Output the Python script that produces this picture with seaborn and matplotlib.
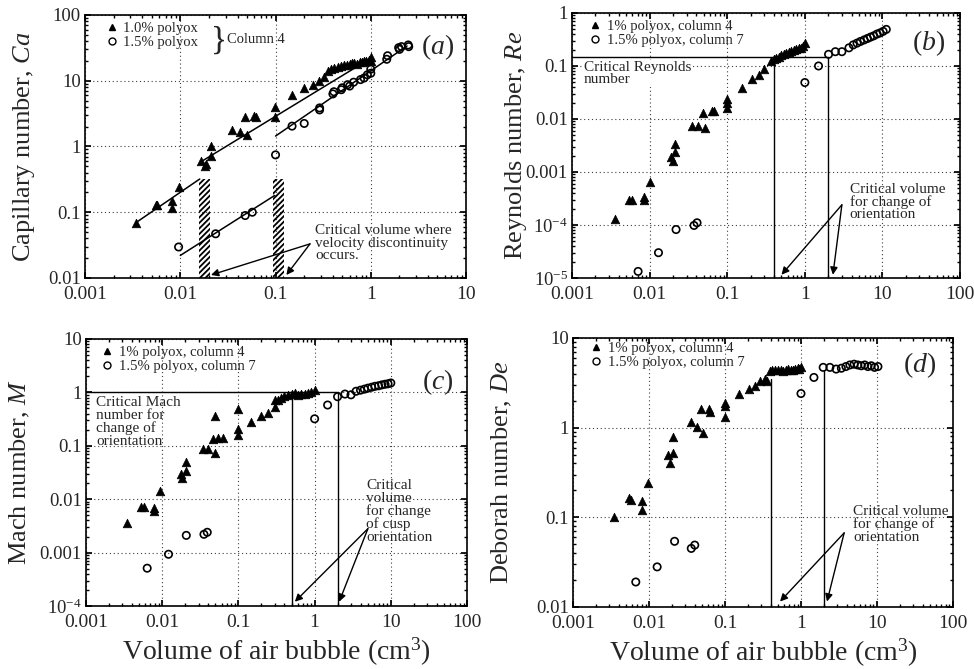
import numpy as np
import pandas as pd
import seaborn as sns
import matplotlib.pyplot as plt
from matplotlib.lines import Line2D

# ---- (a) capillary number, column 4
ca_x_10 = [0.0034, 0.0055, 0.0057, 0.0082, 0.0082, 0.0098,
           0.0165, 0.018, 0.0187, 0.021, 0.021, 0.0346, 0.042, 0.048, 0.050, 0.060, 0.062, 0.098, 0.098,
           0.149, 0.20, 0.246, 0.289, 0.326, 0.353, 0.38, 0.414, 0.45, 0.49, 0.527, 0.56, 0.60, 0.64,
           0.67, 0.72, 0.77, 0.81, 0.85, 0.90, 0.95, 1.0, 1.0]
ca_y_10 = [0.069, 0.13, 0.13, 0.115, 0.15, 0.24,
           0.6, 0.51, 0.55, 1.0, 0.72, 1.8, 1.67, 2.8, 1.5, 2.95, 2.8, 4.0, 2.8,
           6.0, 7.7, 8.7, 10, 11.4, 14.3, 15, 15.5, 16, 16.5, 17.5, 17.2, 18, 18.3,
           18.5, 18, 19, 19.5, 20.3, 20, 21, 22.7, 20]
ca_x_15 = [0.0096, 0.0235, 0.048, 0.057, 0.1, 0.149, 0.2, 0.29, 0.29, 0.4, 0.41, 0.49, 0.5,
           0.57, 0.6, 0.66, 0.78, 0.85, 0.92, 1.0, 1.0, 1.47, 1.5, 1.96, 2.0, 2.1, 2.47, 2.5]
ca_y_15 = [0.0296, 0.047, 0.089, 0.1, 0.745, 2.04, 2.24, 3.86, 3.6, 6.3, 6.8, 7.3, 7.8,
           8.7, 8.3, 9.5, 10.4, 11, 12.3, 13, 15, 21.2, 24, 31.8, 30, 33, 35, 33]
# fitted segments (start, end)
ca_fit_x = [[0.0034, 0.016], [0.016, 1.0], [0.01, 0.098], [0.1, 2.4]]
ca_fit_y = [[0.069, 0.32], [0.57, 22], [0.022, 0.18], [1.44, 33.8]]
# velocity discontinuity bands
ca_band_x = [[0.0158, 0.0205], [0.094, 0.122]]
ca_band_top = 0.32

# ---- (b) Reynolds number
re_x_4 = [0.0036, 0.0055, 0.006, 0.0084, 0.0084, 0.01, 0.0188, 0.0198, 0.0214, 0.0214, 0.0355,
          0.042, 0.0515, 0.049, 0.063, 0.068, 0.1, 0.1, 0.1, 0.155, 0.21, 0.257, 0.3, 0.366, 0.4,
          0.43, 0.46, 0.5, 0.54, 0.58, 0.62, 0.67, 0.72, 0.78, 0.84, 0.9, 0.95, 1.0]
re_y_4 = [1.3e-4, 2.9e-4, 2.9e-4, 3.3e-4, 2.9e-4, 6.4e-4, 1.9e-3, 1.6e-3, 3.4e-3, 2.4e-3, 7.4e-3,
          7.4e-3, 6.8e-3, 0.0127, 0.0143, 0.0143, 0.0236, 0.0164, 0.02, 0.039, 0.056, 0.068, 0.089,
          0.124, 0.133, 0.14, 0.15, 0.162, 0.166, 0.175, 0.185, 0.19, 0.2, 0.205, 0.215, 0.22, 0.24, 0.27]
re_x_7 = [0.0071, 0.013, 0.0219, 0.0373, 0.0408, 1.0, 1.5, 2.02, 2.47, 3.0, 3.7, 4.2, 4.7, 5.2,
          5.8, 6.4, 7.0, 7.7, 8.5, 9.3, 10.2, 11.2]
re_y_7 = [1.33e-5, 3.0e-5, 8.2e-5, 9.8e-5, 1.1e-4, 0.0487, 0.1, 0.166, 0.186, 0.186, 0.22, 0.25,
          0.27, 0.29, 0.31, 0.33, 0.35, 0.37, 0.4, 0.42, 0.45, 0.49]
re_crit = 0.15
re_crit_vol = [0.4, 2.0]

# ---- (c) Mach number
ma_x_4 = [0.0034, 0.0053, 0.0057, 0.0078, 0.0078, 0.0094, 0.0178, 0.018, 0.0207, 0.0207, 0.034,
          0.04, 0.049, 0.049, 0.046, 0.054, 0.063, 0.1, 0.1, 0.1, 0.148, 0.197, 0.245, 0.3, 0.3,
          0.33, 0.36, 0.4, 0.45, 0.5, 0.55, 0.6, 0.67, 0.74, 0.82, 0.9, 1.0]
ma_y_4 = [0.0036, 0.0071, 0.0071, 0.0068, 0.0059, 0.014, 0.0295, 0.025, 0.034, 0.05, 0.088,
          0.086, 0.072, 0.365, 0.135, 0.14, 0.14, 0.48, 0.21, 0.16, 0.28, 0.355, 0.42, 0.53, 0.72,
          0.72, 0.8, 0.85, 0.89, 0.92, 0.96, 0.9, 0.93, 0.95, 0.99, 1.02, 1.1]
ma_x_7 = [0.00635, 0.0121, 0.0207, 0.0353, 0.039, 1.0, 1.48, 2.0, 2.5, 3.0, 3.5, 4.0, 4.5, 5.0,
          5.6, 6.2, 6.9, 7.6, 8.4, 9.2, 10.0]
ma_y_7 = [5.1e-4, 9.3e-4, 2.1e-3, 2.2e-3, 2.4e-3, 0.32, 0.58, 0.83, 0.93, 0.9, 1.05, 1.1, 1.15,
          1.2, 1.25, 1.3, 1.33, 1.38, 1.42, 1.45, 1.5]
ma_crit = 1.0
ma_crit_vol = [0.5, 2.0]

# ---- (d) Deborah number
de_x_4 = [0.0035, 0.0055, 0.0058, 0.0082, 0.0082, 0.0097, 0.0179, 0.0188, 0.0208, 0.021, 0.0352,
          0.043, 0.051, 0.048, 0.061, 0.064, 0.1, 0.1, 0.1, 0.151, 0.204, 0.25, 0.29, 0.34, 0.36,
          0.39, 0.42, 0.46, 0.5, 0.54, 0.58, 0.63, 0.68, 0.73, 0.78, 0.84, 0.9, 0.95, 1.0]
de_y_4 = [0.1, 0.165, 0.158, 0.154, 0.122, 0.242, 0.5, 0.405, 0.79, 0.525, 1.17,
          1.02, 0.88, 1.6, 1.6, 1.5, 1.75, 1.9, 1.32, 2.36, 2.73, 2.93, 3.33, 3.5, 3.3,
          4.3, 4.4, 4.35, 4.4, 4.45, 4.3, 4.4, 4.5, 4.4, 4.4, 4.5, 4.6, 4.5, 4.7]
de_x_7 = [0.0067, 0.0128, 0.0217, 0.036, 0.04, 1.0, 1.48, 1.96, 2.4, 2.9, 3.4, 3.9, 4.4, 5.0,
          5.6, 6.2, 6.9, 7.6, 8.4, 9.3, 10.3]
de_y_7 = [0.019, 0.028, 0.054, 0.045, 0.049, 2.4, 3.63, 4.7, 4.7, 4.5, 4.6, 4.8, 5.0, 5.1,
          5.0, 4.9, 5.0, 4.8, 4.9, 4.7, 4.8]
de_crit_vol = [0.4, 2.0]
de_crit_top = [3.5, 4.3]

x_ticks_a = [0.001, 0.01, 0.1, 1, 10]
x_labels_a = ['0.001', '0.01', '0.1', '1', '10']
x_ticks = [0.001, 0.01, 0.1, 1, 10, 100]
x_labels = ['0.001', '0.01', '0.1', '1', '10', '100']

sns.set_theme(style="ticks")
plt.rcParams['font.family'] = ['Liberation Serif', 'DejaVu Serif']
plt.rcParams['mathtext.fontset'] = 'custom'
plt.rcParams['mathtext.rm'] = 'Liberation Serif'
plt.rcParams['mathtext.it'] = 'Liberation Serif:italic'
plt.rcParams['hatch.linewidth'] = 1.3
plt.rcParams['axes.edgecolor'] = 'black'
plt.rcParams['axes.linewidth'] = 1.2

fig = plt.figure(figsize=(9.74, 6.69), dpi=100)
ax_a = fig.add_axes([0.0873, 0.5845, 0.3912, 0.3931])
ax_b = fig.add_axes([0.5873, 0.5845, 0.3984, 0.3961])
ax_c = fig.add_axes([0.0883, 0.0942, 0.3912, 0.3991])
ax_d = fig.add_axes([0.5883, 0.0927, 0.3901, 0.4021])


def style_axes(ax, xt, xl, ylim, yt, yl, ylabel, lab_x):
    ax.set_xscale('log')
    ax.set_yscale('log')
    ax.set_xlim(xt[0], xt[-1])
    ax.set_ylim(*ylim)
    ax.set_xticks(xt, xl)
    ax.set_yticks(yt, yl)
    ax.set_axisbelow(True)
    ax.grid(True, which='major', linestyle=(0, (1, 2.5)), color='0.25', linewidth=0.8)
    ax.tick_params(which='both', direction='in', top=True, right=True, color='black')
    ax.tick_params(axis='x', labelsize=14, pad=6)
    ax.tick_params(axis='y', labelsize=13.5, pad=3)
    ax.tick_params(which='major', length=4)
    ax.tick_params(which='minor', length=2.5)
    ax.set_ylabel(ylabel, fontsize=19)
    ax.yaxis.set_label_coords(lab_x, 0.5)
    ax.set_xlabel('')


def draw_points(ax, xs, ys, filled):
    if filled:
        sns.scatterplot(x=xs, y=ys, marker='^', s=38, color='black', edgecolor='black',
                        linewidth=0.5, ax=ax, zorder=3)
    else:
        sns.scatterplot(x=xs, y=ys, marker='o', s=28, facecolor='none', edgecolor='black',
                        linewidth=1.2, ax=ax, zorder=3)


def add_legend(ax, lab1, lab2, anchor):
    h = [Line2D([], [], marker='^', color='black', ls='none', markersize=5),
         Line2D([], [], marker='o', mfc='none', mec='black', ls='none', markersize=5)]
    ax.legend(h, [lab1, lab2], loc='upper left', bbox_to_anchor=anchor, frameon=False,
              fontsize=10.5, handlelength=0.8, handletextpad=0.4, labelspacing=0.05,
              borderpad=0, borderaxespad=0)


arrow_kw = dict(arrowstyle='-|>', color='black', lw=1.0, mutation_scale=11, shrinkA=0, shrinkB=0)

# (a)
style_axes(ax_a, x_ticks_a, x_labels_a, (0.01, 100), [0.01, 0.1, 1, 10, 100],
           ['0.01', '0.1', '1', '10', '100'], 'Capillary number, $Ca$', -0.126)
for bx in ca_band_x:
    ax_a.fill_betweenx([0.01, ca_band_top], bx[0], bx[1], facecolor='none', edgecolor='black',
                       hatch='//////', linewidth=0, zorder=2)
for fx, fy in zip(ca_fit_x, ca_fit_y):
    sns.lineplot(x=fx, y=fy, color='black', linewidth=1.1, estimator=None, ax=ax_a)
draw_points(ax_a, ca_x_10, ca_y_10, True)
draw_points(ax_a, ca_x_15, ca_y_15, False)
add_legend(ax_a, '1.0% polyox', '1.5% polyox', (0.055, 0.975))
ax_a.text(0.33, 0.903, '}', transform=ax_a.transAxes, fontsize=24, va='center', ha='left')
ax_a.text(0.372, 0.905, 'Column 4', transform=ax_a.transAxes, fontsize=10.5, va='center', ha='left')
ax_a.text(0.926, 0.878, '($a$)', transform=ax_a.transAxes, fontsize=20, va='center', ha='center')
ax_a.text(0.604, 0.205, 'Critical volume where\nvelocity discontinuity\noccurs.',
          transform=ax_a.transAxes, fontsize=11, va='top', ha='left', linespacing=0.95)
for hx in [0.021, 0.13]:
    ax_a.annotate('', xy=(hx, 0.0111), xytext=(0.23, 0.033), arrowprops=arrow_kw)

# (b)
style_axes(ax_b, x_ticks, x_labels, (1e-5, 1), [1e-5, 1e-4, 0.001, 0.01, 0.1, 1],
           ['$10^{-5}$', '$10^{-4}$', '0.001', '0.01', '0.1', '1'], 'Reynolds number, $Re$', -0.112)
ax_b.plot([0.001, re_crit_vol[1]], [re_crit, re_crit], color='black', lw=1.0)
for v in re_crit_vol:
    ax_b.plot([v, v], [1e-5, re_crit], color='black', lw=1.0)
draw_points(ax_b, re_x_4, re_y_4, True)
draw_points(ax_b, re_x_7, re_y_7, False)
add_legend(ax_b, '1% polyox, column 4', '1.5% polyox, column 7', (0.045, 0.975))
ax_b.text(0.918, 0.887, '($b$)', transform=ax_b.transAxes, fontsize=20, va='center', ha='center')
ax_b.text(0.031, 0.82, 'Critical Reynolds\nnumber', transform=ax_b.transAxes, fontsize=11,
          va='top', ha='left', linespacing=0.95,
          bbox=dict(facecolor='white', edgecolor='none', pad=0.5))
ax_b.text(0.716, 0.36, 'Critical volume\nfor change of\norientation', transform=ax_b.transAxes,
          fontsize=11, va='top', ha='left', linespacing=0.95)
for hx in [0.5, 2.3]:
    ax_b.annotate('', xy=(hx, 1.15e-5), xytext=(3.0, 2.4e-4), arrowprops=arrow_kw)

# (c)
style_axes(ax_c, x_ticks, x_labels, (1e-4, 10), [1e-4, 0.001, 0.01, 0.1, 1, 10],
           ['$10^{-4}$', '0.001', '0.01', '0.1', '1', '10'], 'Mach number, $M$', -0.142)
ax_c.plot([0.001, ma_crit_vol[1]], [ma_crit, ma_crit], color='black', lw=1.0)
for v in ma_crit_vol:
    ax_c.plot([v, v], [1e-4, ma_crit], color='black', lw=1.0)
draw_points(ax_c, ma_x_4, ma_y_4, True)
draw_points(ax_c, ma_x_7, ma_y_7, False)
add_legend(ax_c, '1% polyox, column 4', '1.5% polyox, column 7', (0.04, 0.975))
ax_c.text(0.924, 0.839, '($c$)', transform=ax_c.transAxes, fontsize=20, va='center', ha='center')
ax_c.text(0.026, 0.785, 'Critical Mach\nnumber for\nchange of\norientation',
          transform=ax_c.transAxes, fontsize=11, va='top', ha='left', linespacing=0.95)
ax_c.text(0.735, 0.475, 'Critical\nvolume\nfor change\nof cusp\norientation',
          transform=ax_c.transAxes, fontsize=11, va='top', ha='left', linespacing=0.95)
for hx in [0.55, 2.1]:
    ax_c.annotate('', xy=(hx, 1.2e-4), xytext=(5.0, 2.8e-3), arrowprops=arrow_kw)
ax_c.set_xlabel('Volume of air bubble (cm$^3$)', fontsize=20, labelpad=3)

# (d)
style_axes(ax_d, x_ticks, x_labels, (0.01, 10), [0.01, 0.1, 1, 10],
           ['0.01', '0.1', '1', '10'], 'Deborah number, $De$', -0.155)
for v, top in zip(de_crit_vol, de_crit_top):
    ax_d.plot([v, v], [0.01, top], color='black', lw=1.0)
draw_points(ax_d, de_x_4, de_y_4, True)
draw_points(ax_d, de_x_7, de_y_7, False)
add_legend(ax_d, '1% polyox, column 4', '1.5% polyox, column 7', (0.045, 0.985))
ax_d.text(0.913, 0.9, '($d$)', transform=ax_d.transAxes, fontsize=20, va='center', ha='center')
ax_d.text(0.737, 0.38, 'Critical volume\nfor change of\norientation', transform=ax_d.transAxes,
          fontsize=11, va='top', ha='left', linespacing=0.95)
for hx in [0.53, 2.2]:
    ax_d.annotate('', xy=(hx, 0.0115), xytext=(3.7, 0.067), arrowprops=arrow_kw)
ax_d.set_xlabel('Volume of air bubble (cm$^3$)', fontsize=20, labelpad=3)

fig.savefig('out.png', dpi=100)
